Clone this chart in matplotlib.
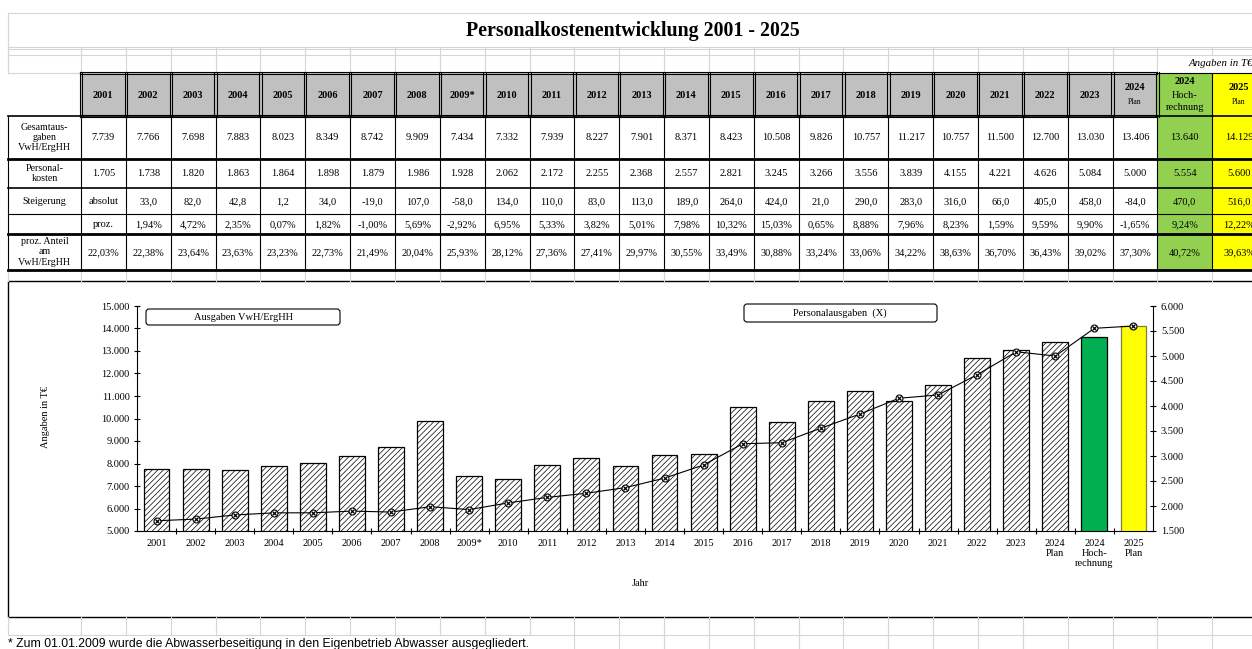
import numpy as np
import matplotlib.pyplot as plt
from matplotlib.patches import Rectangle, FancyBboxPatch

plt.rcParams['font.family'] = ['Liberation Serif', 'DejaVu Serif']
plt.rcParams['hatch.linewidth'] = 0.5

# Data (T€)
years = ['2001', '2002', '2003', '2004', '2005', '2006', '2007', '2008', '2009*',
         '2010', '2011', '2012', '2013', '2014', '2015', '2016', '2017', '2018',
         '2019', '2020', '2021', '2022', '2023']
extra_labels = ['2024\nPlan', '2024\nHoch-\nrechnung', '2025\nPlan']
gesamt = [7739, 7766, 7698, 7883, 8023, 8349, 8742, 9909, 7434, 7332, 7939, 8227, 7901,
          8371, 8423, 10508, 9826, 10757, 11217, 10757, 11500, 12700, 13030, 13406, 13640, 14129]
personal = [1705, 1738, 1820, 1863, 1864, 1898, 1879, 1986, 1928, 2062, 2172, 2255, 2368,
            2557, 2821, 3245, 3266, 3556, 3839, 4155, 4221, 4626, 5084, 5000, 5554, 5600]
steig_abs = ['absolut', '33,0', '82,0', '42,8', '1,2', '34,0', '-19,0', '107,0', '-58,0',
             '134,0', '110,0', '83,0', '113,0', '189,0', '264,0', '424,0', '21,0', '290,0',
             '283,0', '316,0', '66,0', '405,0', '458,0', '-84,0', '470,0', '516,0']
steig_proz = ['proz.', '1,94%', '4,72%', '2,35%', '0,07%', '1,82%', '-1,00%', '5,69%', '-2,92%',
              '6,95%', '5,33%', '3,82%', '5,01%', '7,98%', '10,32%', '15,03%', '0,65%', '8,88%',
              '7,96%', '8,23%', '1,59%', '9,59%', '9,90%', '-1,65%', '9,24%', '12,22%']
anteil = ['22,03%', '22,38%', '23,64%', '23,63%', '23,23%', '22,73%', '21,49%', '20,04%',
          '25,93%', '28,12%', '27,36%', '27,41%', '29,97%', '30,55%', '33,49%', '30,88%',
          '33,24%', '33,06%', '34,22%', '38,63%', '36,70%', '36,43%', '39,02%', '37,30%',
          '40,72%', '39,63%']
row_labels = ['Gesamtaus-\ngaben\nVwH/ErgHH', 'Personal-\nkosten', 'Steigerung', '',
              'proz. Anteil\nam\nVwH/ErgHH']


def de(v):
    return f'{v:,}'.replace(',', '.')


W, H = 1252, 649
fig = plt.figure(figsize=(W / 100, H / 100), dpi=100)
bg = fig.add_axes([0, 0, 1, 1])
bg.set_xlim(0, W)
bg.set_ylim(H, 0)
bg.axis('off')

n = len(gesamt)
edges = [81 + i * 44.85 for i in range(25)] + [1212, 1266]
grid = '#d6d6d6'
green_t, yellow = '#92d050', '#ffff00'

# spreadsheet gridlines
for y in [13, 47, 49, 55]:
    bg.plot([8, W], [y, y], color=grid, lw=0.8)
bg.plot([8, 8], [13, 73], color=grid, lw=0.8)
for x in [8] + edges[:-1]:
    bg.plot([x, x], [47, 55 if x > 1200 else 73], color=grid, lw=0.8)
    bg.plot([x, x], [270, 281], color=grid, lw=0.8)
    bg.plot([x, x], [617, 635], color=grid, lw=0.8)
    if x > 540:
        bg.plot([x, x], [635, H], color=grid, lw=0.8)
bg.plot([8, W], [635, 635], color=grid, lw=0.8)
bg.plot([8, 81], [73, 73], color=grid, lw=0.8)

bg.text(633, 31, 'Personalkostenentwicklung 2001 - 2025', ha='center', va='center',
        fontsize=14.3, fontweight='bold')
bg.text(1189, 64, 'Angaben in T€', ha='left', va='center', fontsize=7.8, style='italic')

# header row
for i in range(n):
    x0, x1 = edges[i], edges[i + 1]
    fc = '#c0c0c0' if i < 24 else (green_t if i == 24 else yellow)
    bg.add_patch(Rectangle((x0, 73), x1 - x0, 43, fc=fc, ec='none'))
    xc = (x0 + x1) / 2
    if i < 23:
        bg.text(xc, 95, years[i], ha='center', va='center', fontsize=7.5, fontweight='bold')
    elif i == 24:
        bg.text(xc, 81.5, '2024', ha='center', va='center', fontsize=7.5, fontweight='bold')
        bg.text(xc, 95, 'Hoch-', ha='center', va='center', fontsize=7.5)
        bg.text(xc, 108, 'rechnung', ha='center', va='center', fontsize=7.5)
    else:
        yr = '2024' if i == 23 else '2025'
        bg.text(xc, 88, yr, ha='center', va='center', fontsize=7.5, fontweight='bold')
        bg.text(xc, 102, 'Plan', ha='center', va='center', fontsize=5.5)
for y in [73, 116]:
    for d in (-1.2, 1.2):
        bg.plot([80, edges[24]], [y + d, y + d], color='black', lw=0.8)
for x in edges[:25]:
    for d in (-1.2, 1.2):
        bg.plot([x + d, x + d], [72, 117], color='black', lw=0.8)
bg.plot([edges[24], W], [73, 73], color='black', lw=0.8)
bg.plot([edges[25], edges[25]], [73, 116], color='black', lw=0.8)

# data rows
row_b = [116, 159, 188, 214, 234, 270]
rows = [[de(v) for v in gesamt], [de(v) for v in personal], steig_abs, steig_proz, anteil]
for r, vals in enumerate(rows):
    y0, y1 = row_b[r], row_b[r + 1]
    yc = (y0 + y1) / 2
    bg.add_patch(Rectangle((edges[24], y0), edges[25] - edges[24], y1 - y0, fc=green_t, ec='none'))
    bg.add_patch(Rectangle((edges[25], y0), edges[26] - edges[25], y1 - y0, fc=yellow, ec='none'))
    bg.text(44.5, yc, row_labels[r], ha='center', va='center', fontsize=7.2, linespacing=1.15)
    for i, v in enumerate(vals):
        bg.text((edges[i] + edges[i + 1]) / 2, yc + 0.5, v, ha='center', va='center', fontsize=7.5)
for y, lw in zip(row_b, [1.2, 2, 1.2, 0.8, 2, 2]):
    bg.plot([8, W], [y, y], color='black', lw=lw)
for x in [8] + edges[:-1]:
    bg.plot([x, x], [116, 270], color='black', lw=0.8)

# chart area
bg.add_patch(Rectangle((8, 281), 1300, 336, fc='white', ec='black', lw=1))
bg.add_patch(FancyBboxPatch((146, 309), 194, 16, boxstyle='round,pad=0,rounding_size=3',
                            fc='white', ec='black', lw=0.8))
bg.text(243, 317.5, 'Ausgaben VwH/ErgHH', ha='center', va='center', fontsize=7.5)
bg.add_patch(FancyBboxPatch((744, 304), 193, 18, boxstyle='round,pad=0,rounding_size=3',
                            fc='white', ec='black', lw=0.8))
bg.text(840, 313.5, 'Personalausgaben  (X)', ha='center', va='center', fontsize=7.5)

ax = fig.add_axes([137 / W, 1 - 531 / H, 1016 / W, 225 / H])
ax.patch.set_visible(False)
x = np.arange(n)
fcs = ['white'] * 24 + ['#00b050', yellow]
ecs = ['black'] * 25 + ['#7f7f40']
bars = ax.bar(x, gesamt, width=0.66, color=fcs, edgecolor=ecs, lw=0.9)
for b in bars[:24]:
    b.set_hatch('//////')
ax.set_xlim(-0.5, n - 0.5)
ax.set_ylim(5000, 15000)
ax.set_yticks(range(5000, 15001, 1000))
ax.set_yticklabels([de(v) for v in range(5000, 15001, 1000)])
ax.set_xticks(x, years + extra_labels)
ax.set_xticks(np.arange(0.5, n - 1, 1), minor=True)
ax.tick_params(axis='x', which='major', length=0, labelsize=7.5, pad=6)
ax.tick_params(axis='x', which='minor', direction='inout', length=4.5, width=0.8)
ax.tick_params(axis='y', direction='inout', length=4.5, width=0.8, labelsize=7.5, pad=3)
for lab in ax.get_xticklabels():
    lab.set_linespacing(1.1)
    lab.set_va('top')
ax.spines['top'].set_visible(False)
ax.spines['right'].set_visible(False)
ax.set_ylabel('Angaben in T€', fontsize=7.5)
ax.yaxis.set_label_coords(-0.086, 0.507)
ax.set_xlabel('Jahr', fontsize=7.5)
ax.xaxis.set_label_coords(0.495, -0.213)

ax2 = ax.twinx()
ax2.set_ylim(1500, 6000)
ax2.set_yticks(range(1500, 6001, 500))
ax2.set_yticklabels([de(v) for v in range(1500, 6001, 500)])
ax2.tick_params(axis='y', direction='inout', length=4.5, width=0.8, labelsize=7.5, pad=3.5)
for s in ['top', 'left', 'bottom']:
    ax2.spines[s].set_visible(False)
ax2.plot(x, personal, color='black', lw=0.8, marker='o', ms=5, mfc='white', mec='black',
         mew=0.8, zorder=3)
ax2.plot(x, personal, ls='none', marker='x', ms=3.5, mec='black', mew=0.9, zorder=4)

bg.text(8, 644, '* Zum 01.01.2009 wurde die Abwasserbeseitigung in den Eigenbetrieb Abwasser ausgegliedert.',
        ha='left', va='center', fontsize=8.8, family='Liberation Sans')

fig.savefig('out.png', dpi=100)
